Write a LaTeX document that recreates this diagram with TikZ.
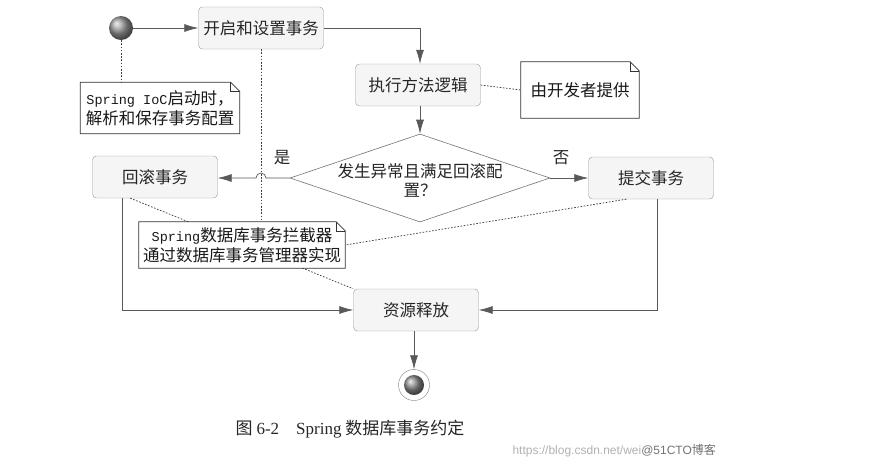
\documentclass[tikz,border=0pt]{standalone}
\usepackage{fontspec}
\setmainfont{Noto Sans CJK SC}
\newfontfamily\monofont{Liberation Mono}
\newfontfamily\serifont{Liberation Serif}
\newfontfamily\wmfont{Liberation Sans}
\usetikzlibrary{arrows.meta}
\usetikzlibrary{shapes.geometric}
\tikzset{
	>={Latex[length=14pt,width=8pt]},
	flow/.style={black!65, line width=0.7pt, ->},
	link/.style={black!75, line width=0.75pt, dash pattern=on 1.6pt off 1.6pt},
	activity/.style={draw=black!40, fill=black!4, rounded corners=4pt,
		minimum width=125pt, minimum height=42pt, inner sep=0pt,
		font=\fontsize{16.5}{19}\selectfont, text=black!85},
	decision/.style={diamond, draw=black!55, line width=0.6pt,
		minimum width=260pt, minimum height=88pt, inner sep=0pt},
	notebox/.style={fill=white, align=center, inner sep=0pt,
		font=\fontsize{16.5}{20}\selectfont, text=black!90},
	lbl/.style={font=\fontsize{16.5}{19}\selectfont, text=black!85},
	startdot/.style={circle, minimum size=24pt, inner sep=0pt, shading=ball, ball color=black!40},
}
% note outline with folded corner
\newcommand{\notefold}[1]{%
	\draw[black!80, line width=0.7pt] (#1.north west) -- ([xshift=-9pt]#1.north east)
	-- ([yshift=-9pt]#1.north east) -- (#1.south east) -- (#1.south west) -- cycle;
	\draw[black!80, line width=0.5pt] ([xshift=-9pt]#1.north east)
	-- ([xshift=-9pt,yshift=-9pt]#1.north east) -- ([yshift=-9pt]#1.north east);
}

\begin{document}
\begin{tikzpicture}[x=1pt, y=-1pt]
	\useasboundingbox[fill=white] (0,0) rectangle (883,467);
	
	% Activities
	\node[startdot] (start) at (121,28) {};
	\node[activity] (open) at (261,28) {开启和设置事务};
	\node[activity] (exec) at (418,85) {执行方法逻辑};
	\node[decision] (dec) at (420,178) {};
	\node[lbl, align=center] (dectext) at (420,180) {发生异常且满足回滚配\\置？};
	\node[activity] (rollback) at (155,177) {回滚事务};
	\node[activity] (commit) at (651,178) {提交事务};
	\node[activity] (release) at (416,310) {资源释放};
	\node[circle, draw=black!50, fill=white, minimum size=31pt, inner sep=0pt] (stop) at (414,385) {};
	\node[circle, minimum size=20pt, inner sep=0pt, shading=ball, ball color=black!45] (stopdot) at (stop) {};
	
	% Branch labels
	\node[lbl] (yes) at (282,158) {是};
	\node[lbl] (no) at (561,158) {否};
	
	% Dotted links under the notes
	\draw[link] ([xshift=38pt]rollback.south west) -- (release.north west);
	\draw[link] (open.south) -- (261,222);
	
	% Notes
	\node[notebox, minimum width=159pt, minimum height=51pt] (iocnote) at (160,108)
	{{\monofont\fontsize{13.5}{16}\selectfont Spring IoC}启动时，\\解析和保存事务配置};
	\notefold{iocnote}
	\node[notebox, minimum width=118pt, minimum height=56pt] (devnote) at (580,90) {由开发者提供};
	\notefold{devnote}
	\node[notebox, minimum width=206pt, minimum height=46pt] (txnote) at (242,245)
	{{\monofont\fontsize{13.5}{16}\selectfont Spring}数据库事务拦截器\\通过数据库事务管理器实现};
	\notefold{txnote}
	
	\draw[link] (start.south) -- (start.south |- iocnote.north);
	\draw[link] (exec.east) -- (devnote.west);
	\draw[link] ([xshift=38pt]commit.south west) -- (txnote.east);
	
	% Control flow
	\draw[flow] (start.east) -- (open.west);
	\draw[flow] (open.east) -| ([xshift=2pt]exec.north);
	\draw[flow] ([xshift=2pt]exec.south) -- (dec.north);
	\draw[flow] (dec.west) -- (266,178) arc[start angle=0, end angle=180, radius=5pt] -- (rollback.east |- dec.west);
	\draw[flow] (dec.east) -- (commit.west);
	\draw[flow] ([xshift=30pt]rollback.south west) |- (release.west);
	\draw[flow] ([xshift=6pt]commit.south) |- (release.east);
	\draw[flow] ([xshift=-2pt]release.south) -- (stop.north);
	
	% Caption and mark
	\node[font=\fontsize{17}{20}\selectfont, text=black!85] (caption) at (350,429)
	{图 {\serifont 6-2}\quad{\serifont Spring} 数据库事务约定};
	\node[font=\fontsize{12}{14}\selectfont, text=black!30, anchor=west] (mark) at (509,451)
	{{\wmfont https://blog.csdn.net/wei}{\color{black!55}\wmfont @51CTO}{\color{black!55}博客}};
\end{tikzpicture}
\end{document}
